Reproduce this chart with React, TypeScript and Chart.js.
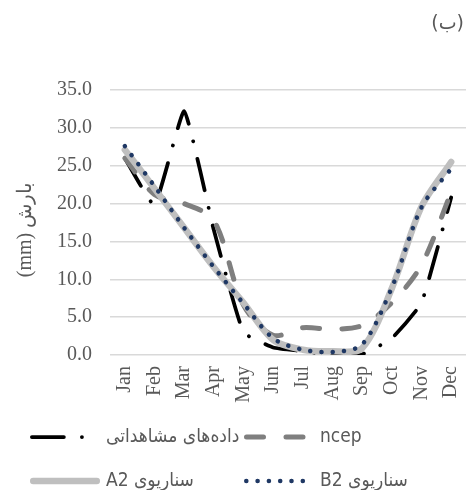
import React, { useEffect, useRef } from 'react';
import { Chart, registerables } from 'chart.js';

Chart.register(...registerables);

// Monthly precipitation (mm)
const months = ['Jan', 'Feb', 'Mar', 'Apr', 'May', 'Jun', 'Jul', 'Aug', 'Sep', 'Oct', 'Nov', 'Dec'];
const observed = [26.0, 19.8, 32.2, 16.5, 3.0, 1.0, 0.5, 0.0, 0.1, 2.2, 6.9, 20.8];
const ncep = [26.0, 21.2, 20.0, 17.8, 6.6, 2.6, 3.6, 3.4, 3.9, 6.9, 11.9, 21.5];
const scenarioA2 = [27.1, 22.0, 16.8, 11.6, 6.9, 2.0, 0.7, 0.5, 0.9, 8.8, 19.6, 25.5];
const scenarioB2 = [27.6, 22.3, 16.8, 11.6, 6.8, 2.2, 0.7, 0.4, 1.4, 8.9, 19.5, 24.6];

const seriesNames = ['داده‌های مشاهداتی', 'ncep', 'سناریوی A2', 'سناریوی B2'];
const panelLabel = '(ب)';
const yAxisTitle = 'بارش (mm)';
const yMin = 0;
const yMax = 35;
const yStep = 5;

const TEXT_COLOR = '#595959';
const SERIF = "'Liberation Serif', 'Times New Roman', serif";
const LEGEND_FONT = "'Liberation Sans Narrow', 'Arial Narrow', 'DejaVu Sans Condensed', 'Liberation Sans', sans-serif";

// Draws the panel label, the rotated y-axis title and the two-row legend.
const decorations = {
  id: 'decorations',
  afterDraw(chart: any) {
    const ctx = chart.ctx as CanvasRenderingContext2D;
    const area = chart.chartArea;

    // panel label, top right
    ctx.save();
    ctx.direction = 'rtl';
    ctx.fillStyle = TEXT_COLOR;
    ctx.font = "19px 'DejaVu Sans', sans-serif";
    ctx.textAlign = 'right';
    ctx.textBaseline = 'middle';
    ctx.fillText(panelLabel, 464, 24);
    ctx.restore();

    // y-axis title
    ctx.save();
    ctx.direction = 'rtl';
    ctx.fillStyle = TEXT_COLOR;
    ctx.font = `20px ${SERIF}`;
    ctx.textAlign = 'center';
    ctx.textBaseline = 'middle';
    ctx.translate(26, (area.top + area.bottom) / 2 + 7);
    ctx.rotate(-Math.PI / 2);
    ctx.fillText(yAxisTitle, 0, 0);
    ctx.restore();

    // legend: two columns, two rows
    const cols = [30, 244];
    const rows = [437, 481];
    const sampleLen = 70;
    chart.data.datasets.forEach((ds: any, i: number) => {
      const x0 = cols[i % 2];
      const y = rows[Math.floor(i / 2)];
      const lw = ds.borderWidth;
      ctx.save();
      ctx.strokeStyle = ds.borderColor;
      ctx.lineWidth = lw;
      ctx.lineCap = ds.borderCapStyle || 'butt';
      ctx.setLineDash(ds.borderDash || []);
      ctx.beginPath();
      ctx.moveTo(x0 + lw / 2, y);
      ctx.lineTo(x0 + sampleLen - lw / 2, y);
      ctx.stroke();
      ctx.restore();

      ctx.save();
      ctx.direction = 'rtl';
      ctx.fillStyle = TEXT_COLOR;
      ctx.font = `19px ${LEGEND_FONT}`;
      ctx.textAlign = 'left';
      ctx.textBaseline = 'middle';
      ctx.fillText(ds.label, x0 + sampleLen + 6, y);
      ctx.restore();
    });
  },
};

export default function App() {
  const canvasRef = useRef<HTMLCanvasElement | null>(null);

  useEffect(() => {
    const canvas = canvasRef.current;
    if (!canvas) return;

    const chart = new Chart(canvas, {
      type: 'line',
      data: {
        labels: months,
        datasets: [
          {
            label: seriesNames[0],
            data: observed,
            borderColor: '#000000',
            borderWidth: 3.75,
            borderDash: [32, 18, 0.1, 18],
            borderCapStyle: 'round',
            tension: 0.12,
            order: 4,
          },
          {
            label: seriesNames[1],
            data: ncep,
            borderColor: '#7f7f7f',
            borderWidth: 5,
            borderDash: [17, 22.5],
            borderCapStyle: 'round',
            order: 3,
          },
          {
            label: seriesNames[2],
            data: scenarioA2,
            borderColor: '#bfbfbf',
            borderWidth: 6.5,
            borderCapStyle: 'round',
            order: 2,
          },
          {
            label: seriesNames[3],
            data: scenarioB2,
            borderColor: '#1f3864',
            borderWidth: 4.5,
            borderDash: [0.1, 11.2],
            borderCapStyle: 'round',
            order: 1,
          },
        ] as any,
      },
      options: {
        responsive: false,
        animation: false,
        events: [],
        layout: { padding: { top: 90, left: 0, right: 0, bottom: 85 } },
        elements: {
          point: { radius: 0 },
          line: { tension: 0.3, fill: false, borderJoinStyle: 'round' },
        },
        plugins: {
          legend: { display: false },
          title: { display: false },
          tooltip: { enabled: false },
        },
        scales: {
          x: {
            offset: true,
            grid: { display: false, drawTicks: false },
            border: { display: false },
            ticks: {
              autoSkip: false,
              minRotation: 90,
              maxRotation: 90,
              padding: 11,
              color: TEXT_COLOR,
              font: { family: SERIF, size: 20 },
            },
            afterFit(scale: any) {
              scale.height = 50;
              scale.paddingLeft = 0;
              scale.paddingRight = 0;
            },
          },
          y: {
            min: yMin,
            max: yMax,
            grid: { color: '#d9d9d9', lineWidth: 1.5, drawTicks: false },
            border: { display: false },
            ticks: {
              stepSize: yStep,
              padding: 18,
              color: TEXT_COLOR,
              font: { family: SERIF, size: 20 },
              callback: (v: any) => Number(v).toFixed(1),
            },
            afterFit(scale: any) {
              scale.width = 110;
            },
          },
        },
      },
      plugins: [decorations],
    });

    return () => chart.destroy();
  }, []);

  return (
    <div style={{ position: 'absolute', left: 0, top: 0, width: 466, height: 490, background: '#ffffff' }}>
      <canvas ref={canvasRef} width={466} height={490} style={{ display: 'block' }} />
    </div>
  );
}
